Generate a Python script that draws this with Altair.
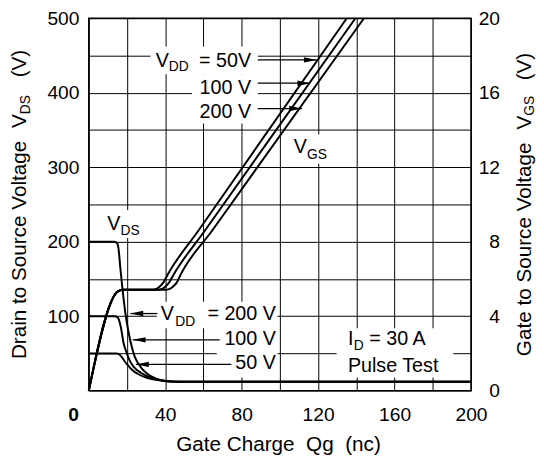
import altair as alt
import pandas as pd

FONT = "Liberation Sans"

# ---- data (gate charge in nC) ----
# Drain-source voltage curves (left axis, V)
vds200_q = [0, 13.5, 14.8, 15.6, 16.5, 17.5, 19.2, 21, 22.5, 24, 26, 28, 31, 35, 39, 43, 47, 200]
vds200_v = [200, 200, 198, 190, 165, 140, 103, 76, 59, 46, 36, 29, 22, 16.5, 13.5, 12.3, 12, 12]
vds100_q = [0, 13.5, 14.8, 15.8, 16.8, 18.2, 19.5, 21.3, 23.5, 27.3, 31, 35, 40, 45, 48, 200]
vds100_v = [100, 100, 99, 95, 85, 64, 53, 41, 32, 24, 19, 15.5, 13, 12.1, 12, 12]
vds50_q = [0, 14.5, 15.8, 17, 18.5, 20, 23, 26, 30, 34.5, 39, 44, 48, 200]
vds50_v = [50, 50, 49, 46, 40.5, 35.5, 27, 22, 17.6, 14.8, 13, 12.2, 12, 12]

# Gate-source voltage curves (right axis, V)
vgs_v = [0, 4.72, 5.05, 5.27, 5.37, 5.42, 5.42, 5.45, 5.58, 5.8, 6.2, 8.63, 20]
vgs50_q = [0, 11.5, 13, 14.5, 16, 18, 33, 35, 37, 39, 41.1, 57.6, 135]
vgs100_q = [0, 11.5, 13, 14.5, 16, 18, 36, 38, 40, 42, 44.2, 61, 139.5]
vgs200_q = [0, 11.5, 13, 14.5, 16, 18, 40, 42, 44, 46, 47.9, 64.8, 144]

x_ticks = list(range(0, 201, 20))
yl_ticks = list(range(0, 501, 50))
yr_ticks = list(range(0, 21, 4))


def series(name, q, v):
    return pd.DataFrame({"qg": q, "v": v, "s": name})


vds_df = pd.concat([series("200", vds200_q, vds200_v),
                    series("100", vds100_q, vds100_v),
                    series("50", vds50_q, vds50_v)], ignore_index=True)
vgs_df = pd.concat([series("50", vgs50_q, vgs_v),
                    series("100", vgs100_q, vgs_v),
                    series("200", vgs200_q, vgs_v)], ignore_index=True)

ONE = pd.DataFrame({"k": [0]})

XS = alt.Scale(domain=[0, 200], nice=False, zero=False)
YL = alt.Scale(domain=[0, 500], nice=False, zero=False)
YR = alt.Scale(domain=[0, 20], nice=False, zero=False)

x_axis = alt.Axis(
    values=x_ticks, labelExpr="datum.value % 40 == 0 ? datum.label : ''",
    grid=True, gridColor="black", gridWidth=1, gridOpacity=1,
    domain=False, ticks=False, tickSize=0, title=None, orient="bottom",
    labelFont=FONT, labelFontSize=19.5, labelColor="black",
    labelBaseline="alphabetic", labelPadding=30, labelFlush=False, labelOverlap=False,
    labelOffset={"condition": {"test": "datum.value == 0", "value": -16}, "value": 0},
    labelFontWeight={"condition": {"test": "datum.value == 0", "value": "bold"}, "value": "normal"},
)
yl_axis = alt.Axis(
    values=yl_ticks, labelExpr="datum.value % 100 == 0 && datum.value > 0 ? datum.label : ''",
    grid=True, gridColor="black", gridWidth=1, gridOpacity=1,
    domain=False, ticks=False, tickSize=0, title=None, orient="left",
    labelFont=FONT, labelFontSize=19.5, labelColor="black",
    labelPadding=10, labelFlush=False, labelOverlap=False,
)
yr_axis = alt.Axis(
    values=yr_ticks, grid=False, domain=False, ticks=False, tickSize=0, title=None,
    orient="right", labelFont=FONT, labelFontSize=19.5, labelColor="black",
    labelAlign="right", labelPadding=29, labelFlush=False, labelOverlap=False,
)


def XD(q):
    return alt.XDatum(q, scale=XS, axis=x_axis, title=None)


def YD(v):
    return alt.YDatum(v, scale=YL, axis=yl_axis, title=None)


def box(q1, q2, v1, v2):
    return alt.Chart(ONE).mark_rect(color="white").encode(
        x=XD(q1), x2=alt.X2Datum(q2), y=YD(v1), y2=alt.Y2Datum(v2))


def txt(s, q, v, fs=20, align="left"):
    return alt.Chart(ONE).mark_text(
        text=s, font=FONT, fontSize=fs, align=align, baseline="alphabetic", color="black"
    ).encode(x=XD(q), y=YD(v))


def ptxt(s, px, py, fs=21, angle=0, align="left"):
    kw = dict(text=s, font=FONT, fontSize=fs, align=align, baseline="alphabetic", color="black")
    if angle:
        kw["angle"] = angle
    return alt.Chart(ONE).mark_text(**kw).encode(x=alt.value(px), y=alt.value(py))


def arrow(q_from, q_tip, v):
    right = q_tip > q_from
    path = "M0,0L-2,-0.42L-2,0.42Z" if right else "M0,0L2,-0.42L2,0.42Z"
    line = alt.Chart(ONE).mark_rule(color="black", strokeWidth=1.3).encode(
        x=XD(q_from), x2=alt.X2Datum(q_tip), y=YD(v))
    head = alt.Chart(ONE).mark_point(shape=path, filled=True, size=169, color="black", opacity=1).encode(
        x=XD(q_tip), y=YD(v))
    return [line, head]


vds_layer = alt.Chart(vds_df).mark_line(color="black", strokeWidth=2, interpolate="monotone").encode(
    x=alt.X("qg:Q", scale=XS, axis=x_axis, title=None),
    y=alt.Y("v:Q", scale=YL, axis=yl_axis, title=None),
    detail="s:N")

vgs_layer = alt.Chart(vgs_df).mark_line(color="black", strokeWidth=2, interpolate="monotone").encode(
    x=alt.X("qg:Q", scale=XS, axis=x_axis, title=None),
    y=alt.Y("v:Q", scale=YR, axis=yr_axis, title=None),
    detail="s:N")

boxes = [
    box(32.3, 88.5, 424.7, 462.0),
    box(54, 88.5, 358.7, 424.7),
    box(35.6, 98.8, 83.7, 119.4),
    box(67, 98.8, 17.6, 83.7),
    box(129.7, 190.7, 17.6, 83.7),
    box(105.6, 127.7, 304.5, 344),
    box(7.5, 29.2, 205, 242.4),
]

labels = [
    txt("V", 35.0, 435.2), txt("DD", 41.9, 429.3, 14), txt("= 50V", 84.9, 435.2, align="right"),
    txt("100 V", 84.9, 398.6, align="right"), txt("200 V", 84.9, 365.6, align="right"),
    txt("V", 37.6, 94.2), txt("DD", 45.3, 86.3, 14), txt("= 200 V", 97.9, 94.2, align="right"),
    txt("100 V", 97.9, 61.6, align="right"), txt("50 V", 97.9, 28.5, align="right"),
    txt("I", 135.6, 61.6), txt("D", 138.6, 54.6, 14), txt("= 30 A", 146.8, 61.6),
    txt("Pulse Test", 135.6, 25.5),
    txt("V", 9.7, 215.8), txt("DS", 16.6, 209.2, 14),
    txt("V", 107.3, 318.9), txt("GS", 114.2, 310.6, 14),
]

arrows = []
for a in [(88.4, 119.3, 444.1), (88.4, 115.9, 412.8), (88.4, 111.6, 378.8),
          (35.9, 21.8, 103.5), (68.5, 23.0, 68.2), (74.6, 24.7, 35.2)]:
    arrows += arrow(*a)

titles = [
    ptxt("Drain to Source Voltage", -64, 346, angle=270),
    ptxt("V", -64, 111.4, angle=270),
    ptxt("DS", -60, 97.4, fs=14, angle=270),
    ptxt("(V)", -64, 60, angle=270),
    ptxt("Gate to Source Voltage", 448.5, 343, angle=270),
    ptxt("V", 448.5, 113, angle=270),
    ptxt("GS", 451.5, 99, fs=14, angle=270),
    ptxt("(V)", 448.5, 63, angle=270),
    ptxt("Gate Charge", 88.7, 439),
    ptxt("Qg", 220.6, 439),
    ptxt("(nc)", 260.3, 439),
]

left_group = alt.layer(*boxes, vds_layer, *labels, *arrows, *titles)

chart = alt.layer(left_group, vgs_layer).resolve_scale(y="independent").properties(
    width=388, height=378,
    autosize=alt.AutoSizeParams(type="none"),
    padding={"left": 82, "top": 7, "right": 66, "bottom": 67},
).configure_view(stroke="black", strokeWidth=1.5)

chart.save("out.html", embed_options={"renderer": "svg", "actions": False})
